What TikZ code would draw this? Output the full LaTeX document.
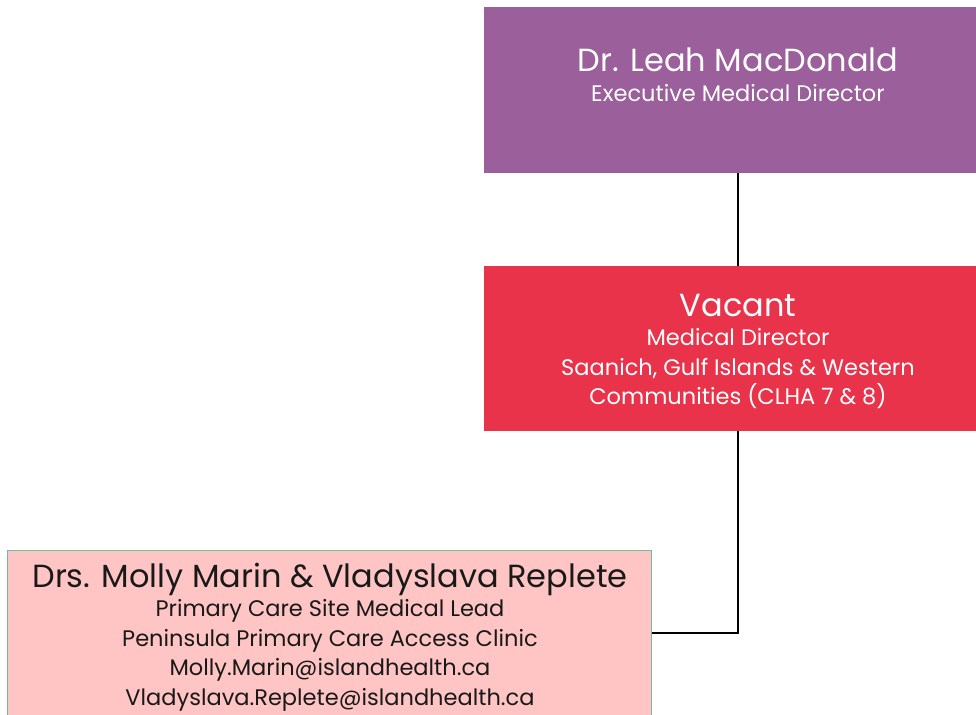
\documentclass[tikz,border=0pt]{standalone}
\usepackage{fontspec}
\setmainfont{Poppins}
\usepackage{xcolor}
\usetikzlibrary{positioning,calc}

\definecolor{execpurple}{HTML}{9B5F9B}
\definecolor{dirred}{HTML}{E8334A}
\definecolor{leadpink}{HTML}{FFC5C5}
\definecolor{leadedge}{HTML}{6DBE9A}

\newcommand{\boxtitle}[1]{{\fontsize{32}{33}\selectfont #1}}

\begin{document}
\begin{tikzpicture}[x=1pt,y=-1pt,
    orgbox/.style={rectangle, inner sep=0pt, draw=none},
    boxtext/.style={align=center, inner sep=0pt, anchor=north,
        font=\fontsize{22.5}{29.5}\selectfont},
    link/.style={draw=black, line width=2.8pt}]
  \useasboundingbox (0,0) rectangle (976,714);
  \clip (0,0) rectangle (976,714);

  % boxes
  \node[orgbox, fill=execpurple, minimum width=508pt, minimum height=166pt] (exec) at (738,90) {};
  \node[orgbox, fill=dirred, minimum width=508pt, minimum height=165pt] (meddir) at (738,348.5) {};
  \node[orgbox, fill=leadpink, draw=leadedge, line width=1pt, minimum width=644pt, minimum height=166pt] (sitelead) at (329,633) {};

  % texts
  \node[boxtext, text=white] (exectext) at (738,47.7)
    {\boxtitle{Dr. Leah MacDonald}\\Executive Medical Director};
  \node[boxtext, text=white] (meddirtext) at (738,293.5)
    {\boxtitle{Vacant}\\Medical Director\\Saanich, Gulf Islands \& Western\\Communities (CLHA 7 \& 8)};
  \node[boxtext, text=black!90] (leadtext) at (330,562.7)
    {\boxtitle{Drs. Molly Marin \& Vladyslava Replete}\\Primary Care Site Medical Lead\\Peninsula Primary Care Access Clinic\\Molly.Marin@islandhealth.ca\\Vladyslava.Replete@islandhealth.ca};

  % connectors
  \draw[link] (exec.south) -- (meddir.north);
  \draw[link] (meddir.south) |- (sitelead.east);
\end{tikzpicture}
\end{document}
